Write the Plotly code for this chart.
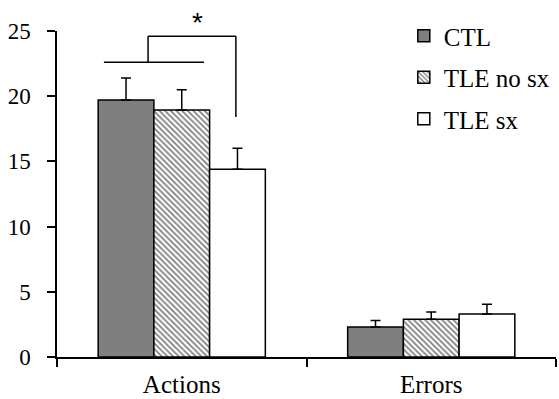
import plotly.graph_objects as go

categories = ["Actions", "Errors"]
groups = ["CTL", "TLE no sx", "TLE sx"]
ctl_values = [19.7, 2.3]
ctl_err = [1.7, 0.5]
tle_nosx_values = [18.95, 2.9]
tle_nosx_err = [1.55, 0.55]
tle_sx_values = [14.4, 3.3]
tle_sx_err = [1.6, 0.75]
y_ticks = [0, 5, 10, 15, 20, 25]

FONT = "Liberation Serif"

fig = go.Figure()

series = [
    (groups[0], ctl_values, ctl_err, dict(color="#7f7f7f")),
    (groups[1], tle_nosx_values, tle_nosx_err,
     dict(color="white", pattern=dict(shape="\\", fgcolor="black", bgcolor="white", size=4, solidity=0.45))),
    (groups[2], tle_sx_values, tle_sx_err, dict(color="white")),
]

for name, vals, errs, mk in series:
    mk = dict(mk)
    mk["line"] = dict(color="black", width=1.5)
    fig.add_trace(go.Bar(
        name=name, x=categories, y=vals, marker=mk,
        legendgroup=name,
        error_y=dict(type="data", symmetric=False, array=errs, arrayminus=[0] * len(errs),
                     color="black", thickness=1.5, width=5),
    ))

line = dict(color="black", width=1.5)
shapes = [
    dict(type="line", xref="x", yref="y", x0=-0.312, x1=0.089, y0=22.6, y1=22.6, line=line),
    dict(type="line", xref="x", yref="y", x0=-0.135, x1=-0.135, y0=22.6, y1=24.6, line=line),
    dict(type="line", xref="x", yref="y", x0=-0.135, x1=0.217, y0=24.6, y1=24.6, line=line),
    dict(type="line", xref="x", yref="y", x0=0.217, x1=0.217, y0=24.6, y1=18.4, line=line),
]

fig.update_layout(
    width=559, height=399,
    margin=dict(l=57, r=3, t=31, b=42, autoexpand=False),
    paper_bgcolor="white", plot_bgcolor="white",
    barmode="group", bargap=0.33, bargroupgap=0,
    font=dict(family=FONT, size=22, color="black"),
    shapes=shapes,
    annotations=[dict(text="*", xref="x", yref="paper", x=0.065, y=1.025, showarrow=False,
                      font=dict(family="Liberation Sans", size=28, color="black"),
                      xanchor="center", yanchor="middle")],
    legend=dict(x=0.695, y=1.055, xanchor="left", yanchor="top",
                font=dict(family=FONT, size=25), tracegroupgap=6,
                bgcolor="rgba(0,0,0,0)", itemwidth=30),
    xaxis=dict(type="category", range=[-0.5, 1.5], tickson="boundaries",
               ticks="outside", ticklen=8, tickwidth=1.5, tickcolor="black",
               showline=True, linecolor="black", linewidth=1.5,
               showgrid=False, zeroline=False, ticklabelstandoff=4,
               tickfont=dict(family=FONT, size=25), automargin=False),
    yaxis=dict(range=[0, 25], tickvals=y_ticks, ticks="outside", ticklen=8,
               tickwidth=1.5, tickcolor="black",
               showline=True, linecolor="black", linewidth=1.5,
               showgrid=False, zeroline=False, ticklabelstandoff=12,
               tickfont=dict(family=FONT, size=23), automargin=False),
)

fig.write_html("out.html", config={"displayModeBar": False},
               post_script="document.body.style.margin='0';")
